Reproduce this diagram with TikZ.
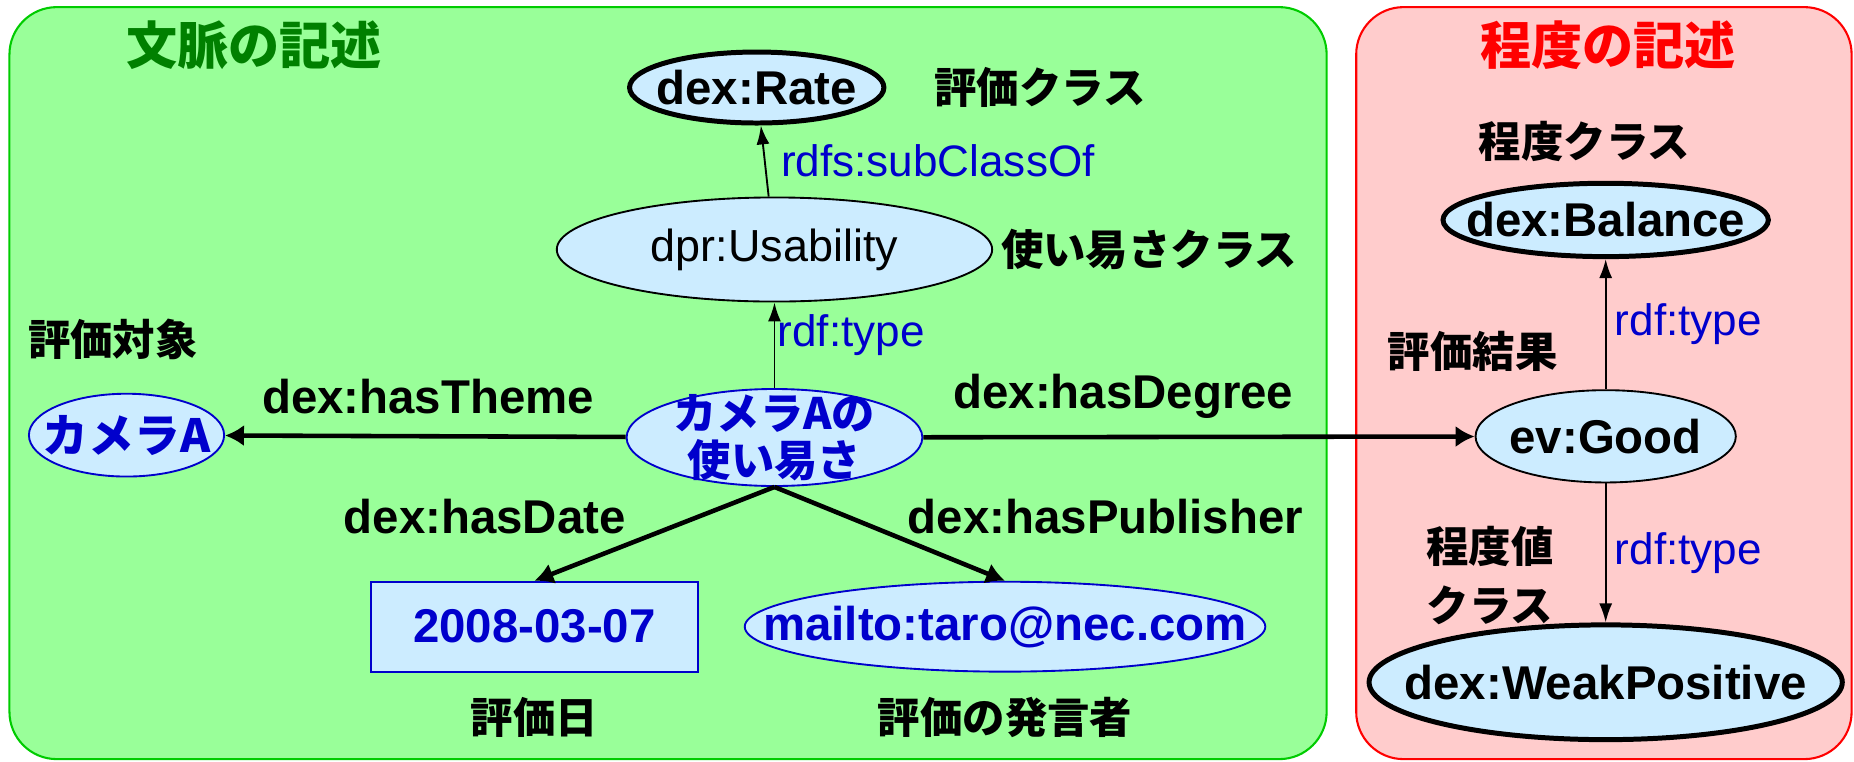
\documentclass[tikz,border=0pt]{standalone}
\usepackage{fontspec}
\setmainfont{Liberation Sans}
\newfontfamily\jp{Noto Sans CJK JP}[BoldFont={Noto Sans CJK JP Black}]
\usetikzlibrary{shapes.geometric,positioning,arrows.meta}

\definecolor{ctxfill}{HTML}{99FF99}
\definecolor{ctxline}{HTML}{00CC00}
\definecolor{ctxtitle}{HTML}{008000}
\definecolor{degfill}{HTML}{FFCCCC}
\definecolor{degline}{HTML}{FF0000}
\definecolor{nodefill}{HTML}{CCECFF}
\definecolor{rdfblue}{HTML}{0000CC}

\tikzset{
  latin/.style={font=\bfseries\fontsize{11.4}{13}\selectfont},
  oval/.style={ellipse, inner sep=-3cm, fill=nodefill},
  cls/.style={oval, draw, line width=1.2pt, latin},
  inst/.style={oval, draw, line width=0.45pt, latin},
  res/.style={oval, draw=rdfblue, line width=0.45pt, text=rdfblue,
    font=\jp\bfseries\fontsize{10.4}{11.4}\selectfont, align=center},
  lit/.style={draw=rdfblue, line width=0.45pt, fill=nodefill, inner sep=0pt,
    text=rdfblue, latin},
  note/.style={inner sep=0pt, font=\jp\bfseries\fontsize{10.2}{14.2}\selectfont, align=center},
  title/.style={inner sep=0pt, font=\jp\bfseries\fontsize{12.3}{14}\selectfont},
  prop/.style={inner sep=0pt, latin},
  lbl/.style={inner sep=0pt, text=rdfblue, font=\fontsize{10.6}{12}\selectfont},
  edge/.style={line width=1.1pt, -{Latex[length=0.16cm,width=0.18cm]}},
  typeedge/.style={line width=0.45pt, -{Latex[length=0.16cm,width=0.11cm]}},
}

\begin{document}
\begin{tikzpicture}[x=0.01cm, y=-0.01cm]
  \useasboundingbox (0,0) rectangle (1568,644);

  % Background panels
  \draw[ctxline, fill=ctxfill, line width=0.5pt, rounded corners=0.4cm] (8,6) rectangle (1122,642);
  \draw[degline, fill=degfill, line width=0.5pt, rounded corners=0.4cm] (1147,6) rectangle (1566,642);
  \node[title, text=ctxtitle] (ctxhead) at (215,38) {文脈の記述};
  \node[title, text=degline]  (deghead) at (1360,38) {程度の記述};

  % Define nodes
  \node[cls, minimum width=2.15cm, minimum height=0.60cm]   (rate)  at (640,74)   {dex:Rate};
  \node[inst, minimum width=3.68cm, minimum height=0.88cm,
        font=\fontsize{10.8}{13}\selectfont]                (usab)  at (655,211)  {dpr:Usability};
  \node[res, minimum width=2.50cm, minimum height=0.82cm]   (camuse) at (655,370) {カメラAの\\使い易さ};
  \node[res, minimum width=1.65cm, minimum height=0.70cm,
        font=\jp\bfseries\fontsize{11}{13}\selectfont]      (cama)  at (107,368)  {カメラA};
  \node[lit, minimum width=2.77cm, minimum height=0.76cm]   (date)  at (452,530)  {2008-03-07};
  \node[res, minimum width=4.40cm, minimum height=0.76cm, latin] (mail) at (850,530) {mailto:taro@nec.com};
  \node[inst, minimum width=2.20cm, minimum height=0.78cm]  (good)  at (1358,369) {ev:Good};
  \node[cls, minimum width=2.75cm, minimum height=0.62cm]   (bal)   at (1358,186) {dex:Balance};
  \node[cls, minimum width=4.00cm, minimum height=0.97cm]   (weak)  at (1358,577) {dex:WeakPositive};

  % Japanese notes
  \node[note, anchor=west, right=0.4cm of rate]   (ratenote) {評価クラス};
  \node[note, anchor=west, right=0.06cm of usab]  (usabnote) {使い易さクラス};
  \node[note, anchor=west] (camanote) at (23,287)   {評価対象};
  \node[note, below=0.2cm of date]                (datenote) {評価日};
  \node[note, below=0.2cm of mail]                (mailnote) {評価の発言者};
  \node[note] (balnote)  at (1340,120) {程度クラス};
  \node[note, anchor=west] (goodnote) at (1173,297) {評価結果};
  \node[note] (weaknote) at (1260,487) {程度値\\クラス};

  % Connect the nodes
  \draw[edge] (camuse) -- (cama);
  \draw[edge] (camuse) -- (good);
  \draw[edge] (camuse.south) -- (date.north);
  \draw[edge] (camuse.south) -- (mail.north);
  \node[prop] (themelbl)  at (362,335) {dex:hasTheme};
  \node[prop] (degreelbl) at (950,335) {dex:hasDegree};
  \node[prop] (datelbl)   at (410,437) {dex:hasDate};
  \node[prop] (publbl)    at (935,437) {dex:hasPublisher};

  \draw[typeedge] (usab) -- node[lbl, right=0.13cm] {rdfs:subClassOf} (rate);
  \draw[typeedge] (camuse) -- node[lbl, right=0.02cm, pos=0.62] {rdf:type} (usab);
  \draw[typeedge] (good) -- node[lbl, right=0.07cm] {rdf:type} (bal);
  \draw[typeedge] (good) -- node[lbl, right=0.07cm] {rdf:type} (weak);
\end{tikzpicture}
\end{document}
